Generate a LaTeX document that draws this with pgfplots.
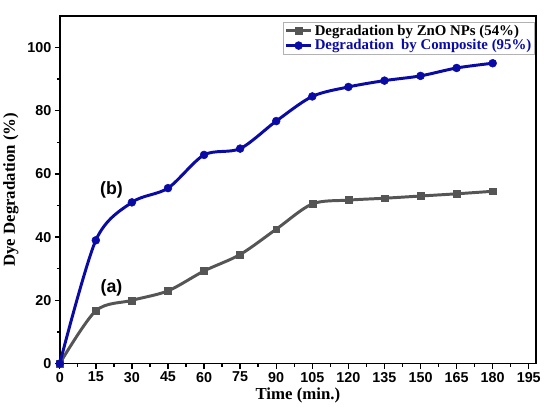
\documentclass[border=0pt]{standalone}
\usepackage{fontspec}
\setmainfont{Liberation Serif}
\setsansfont{Liberation Sans}
\usepackage{pgfplots}
\pgfplotsset{compat=1.18}
\definecolor{zno}{HTML}{555555}
\definecolor{comp}{HTML}{0A0AA5}
\begin{document}
\begin{tikzpicture}
\begin{axis}[
  scale only axis,
  width=482pt, height=352pt,
  xmin=0, xmax=198, ymin=0, ymax=110,
  xtick={0,15,...,195}, ytick={0,20,...,100},
  minor x tick num=1, minor y tick num=1,
  tick align=outside, xtick pos=bottom, ytick pos=left,
  major tick length=5pt, minor tick length=3pt,
  every tick/.style={black, line width=1.4pt},
  axis line style={line width=1.8pt},
  /pgf/number format/assume math mode=true,
  ticklabel style={font=\sffamily\bfseries\fontsize{14.5}{16}\selectfont},
  xlabel={Time (min.)}, ylabel={Dye Degradation (\%)},
  label style={font=\bfseries\fontsize{17}{19}\selectfont},
  xlabel style={yshift=1pt}, ylabel style={yshift=2pt},
  legend style={at={(0.997,0.983)}, anchor=north east, draw=gray!60, line width=0.6pt,
    font=\bfseries\fontsize{15}{16}\selectfont, inner sep=1pt, row sep=-1pt},
  legend cell align=left,
  legend image code/.code={\draw[mark repeat=2,mark phase=2,#1] plot coordinates {(0cm,0cm) (0.45cm,0cm) (0.9cm,0cm)};},
  legend image post style={line width=3pt},
  clip=false,
]
\addplot[zno, line width=3pt, smooth, tension=0.5, mark=square*, mark size=3.5pt, mark options={line width=0.5pt}] coordinates {
(0,0) (15,16.7) (30,20) (45,23) (60,29.3) (75,34.5) (90,42.5) (105,50.5) (120,51.7) (135,52.3) (150,53) (165,53.7) (180,54.5)};
\addlegendentry{Degradation by ZnO NPs (54\%)}
\addplot[comp, line width=3pt, smooth, tension=0.5, mark=*, mark size=4pt, mark options={line width=0.5pt}] coordinates {
(0,0) (15,39) (30,51) (45,55.5) (60,66) (75,68) (90,76.7) (105,84.5) (120,87.5) (135,89.5) (150,91) (165,93.5) (180,95)};
\addlegendentry{\textcolor{comp}{Degradation\ \ by Composite (95\%)}}
\node[font=\sffamily\bfseries\fontsize{18}{20}\selectfont] at (axis cs:21.5,55) {(b)};
\node[font=\sffamily\bfseries\fontsize{18}{20}\selectfont] at (axis cs:21.5,24) {(a)};
\path (rel axis cs:0,1) ++(0,16pt) coordinate (topx);
\path (rel axis cs:1,1) ++(3pt,0) coordinate (rightx);
\end{axis}
\path (topx) -- (rightx);
\end{tikzpicture}
\end{document}
